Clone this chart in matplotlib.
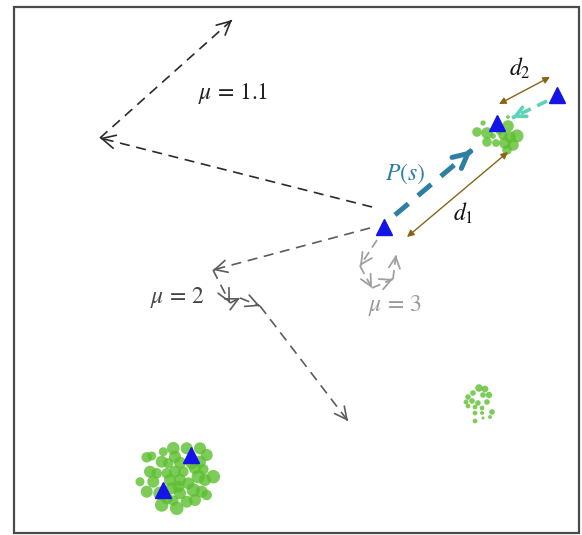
import numpy as np
import matplotlib
matplotlib.use("Agg")
from matplotlib import pyplot as plt
from matplotlib.patches import Circle, Rectangle

plt.rcParams['mathtext.fontset'] = 'stix'
plt.rcParams['font.family'] = 'STIXGeneral'

# --- picture data (pixel-like coordinates, y downwards) ---
# blue triangles (sites / targets)
tri_x = [384, 497, 557, 191, 163]
tri_y = [227, 123, 95, 455, 490]

# random walk paths for the three mu values
walk11_x = [372, 100, 232]
walk11_y = [207, 138, 20]
walk2_x = [370, 213, 230, 240, 260, 348]
walk2_y = [228, 270, 303, 298, 306, 421]
walk3_x = [377, 360, 372, 393, 396]
walk3_y = [240, 266, 288, 279, 255]

# green resource patches (centre x, centre y, radius)
patch1_x = [477, 487, 483, 508, 510, 517, 503, 496, 505, 513, 507, 487, 493, 499, 508]
patch1_y = [132, 133, 123, 126, 137, 136, 135, 143, 143, 145, 150, 142, 136, 132, 117]
patch1_r = [3.3, 4.0, 1.8, 4.0, 4.0, 4.5, 3.3, 2.7, 4.0, 4.0, 3.3, 3.3, 2.0, 2.0, 1.3]

patch2_x = [479, 485, 473, 483, 489, 468, 466, 472, 478, 487, 468, 475, 482, 492, 475, 482, 490, 483, 475]
patch2_y = [388, 389, 393, 395, 395, 397, 402, 401, 403, 402, 406, 407, 408, 412, 413, 413, 417, 418, 421]
patch2_r = [2.7, 2.4, 2.0, 2.0, 2.3, 2.0, 1.7, 2.0, 2.0, 2.0, 1.7, 1.7, 1.7, 2.0, 1.7, 1.4, 1.4, 1.1, 1.7]

patch3_x = [146.7, 151.7, 163.3, 173.3, 175, 186.7, 200, 206.7, 200, 161.7, 168.3, 180, 191.7,
            150, 156.7, 166.7, 175, 183.3, 195, 203.3, 213.3, 140, 153.3, 170, 180, 188.3,
            198.3, 205, 146.7, 160, 171.7, 178.3, 193.3, 201.7, 206.7, 180, 166.7, 161.7,
            176.7, 186.7, 195, 173.3]
patch3_y = [457.3, 456, 451.7, 448.3, 456.7, 448.3, 448.3, 455, 461.7, 461.7, 463.3, 462.7, 463.3,
            471.7, 473.3, 473.3, 471.7, 471.7, 468.3, 469.3, 476.7, 481.7, 481.7, 480, 480, 483.3,
            476.7, 480, 491.7, 493.3, 488.3, 486.7, 490, 491.7, 495, 493.3, 498.3, 505,
            508.3, 501.7, 500, 500.7]
patch3_r = [3.5, 3.0, 3.0, 4.2, 4.0, 4.0, 4.0, 4.0, 4.0, 4.0, 3.5, 4.0, 4.0,
            4.0, 3.5, 3.5, 4.0, 3.5, 4.0, 3.5, 4.5, 3.0, 4.0, 4.0, 4.0, 4.0,
            4.5, 4.0, 4.0, 4.5, 4.0, 4.0, 4.5, 4.0, 3.5, 4.0, 4.0, 4.5,
            4.5, 4.0, 4.0, 3.5]

# P(s) jump, return jump and distances
ps_x = [395, 472]
ps_y = [215, 150]
back_x = [547, 512]
back_y = [101, 118]
d1_x = [407, 508]
d1_y = [237, 152]
d2_x = [499, 550]
d2_y = [104, 77]

labels = [r'$\mu$ = 1.1', r'$\mu$ = 2', r'$\mu$ = 3', r'$P(s)$', r'$d_1$', r'$d_2$']
label_x = [233, 177, 395, 405, 463, 520]
label_y = [94, 297, 306, 174, 213, 68]
label_c = ['#222222', '#444444', '#999999', '#2f7fa3', '#111111', '#111111']
label_fs = [17, 17, 17, 17, 17, 17]

fig = plt.figure(figsize=(5.82, 5.35), dpi=100)
ax = fig.add_axes([0, 0, 1, 1])
ax.set_xlim(0, 582)
ax.set_ylim(535, 0)
ax.axis('off')

ax.add_patch(Rectangle((14, 7), 565, 526, fill=False, ec='#4a4a4a', lw=1.6))


def head(x0, y0, x1, y1, color, lw, ms):
    # open arrow head at (x1, y1) pointing along the segment
    v = np.array([x1 - x0, y1 - y0], dtype=float)
    v = v / np.hypot(*v)
    ax.annotate('', xy=(x1, y1), xytext=(x1 - 2 * v[0], y1 - 2 * v[1]),
                arrowprops=dict(arrowstyle='->', color=color, lw=lw,
                                mutation_scale=ms, shrinkA=0, shrinkB=0))


def walk(xs, ys, color, lw, dash, ms):
    for i in range(len(xs) - 1):
        ax.plot(xs[i:i + 2], ys[i:i + 2], color=color, lw=lw, dashes=dash,
                solid_capstyle='butt', dash_capstyle='butt')
        head(xs[i], ys[i], xs[i + 1], ys[i + 1], color, lw, ms)


walk(walk11_x, walk11_y, '#2b2b2b', 1.2, (6, 4), 24)
walk(walk2_x, walk2_y, '#5c5c5c', 1.2, (6, 4), 22)
walk(walk3_x, walk3_y, '#a0a0a0', 1.3, (5, 3), 20)

for px, py, pr, k in [(patch1_x, patch1_y, patch1_r, 1.45),
                      (patch2_x, patch2_y, patch2_r, 1.4),
                      (patch3_x, patch3_y, patch3_r, 1.5)]:
    for cx, cy, r in zip(px, py, pr):
        ax.add_patch(Circle((cx, cy), r * k, color='#5cbf2e', alpha=0.8, lw=0))

# P(s) long jump
ax.plot(ps_x, ps_y, color='#2f7fa3', lw=3.6, dashes=(3.5, 2.5))
head(ps_x[0], ps_y[0], ps_x[1], ps_y[1], '#2f7fa3', 3.6, 26)

# return jump
ax.plot(back_x, back_y, color='#5fd3b8', lw=2.6, dashes=(3, 2))
head(back_x[0], back_y[0], back_x[1], back_y[1], '#5fd3b8', 2.6, 18)

# distances
for xs, ys in [(d1_x, d1_y), (d2_x, d2_y)]:
    ax.annotate('', xy=(xs[1], ys[1]), xytext=(xs[0], ys[0]),
                arrowprops=dict(arrowstyle='<|-|>', color='#8a6416', lw=1.0,
                                mutation_scale=10, shrinkA=0, shrinkB=0))

ax.plot(tri_x, tri_y, ls='none', marker='^', ms=12, color='#1414e6', mec='#1414e6')

for t, x, y, c, fs in zip(labels, label_x, label_y, label_c, label_fs):
    ax.text(x, y, t, color=c, fontsize=fs, ha='center', va='center')

fig.savefig('out.png', dpi=100)
